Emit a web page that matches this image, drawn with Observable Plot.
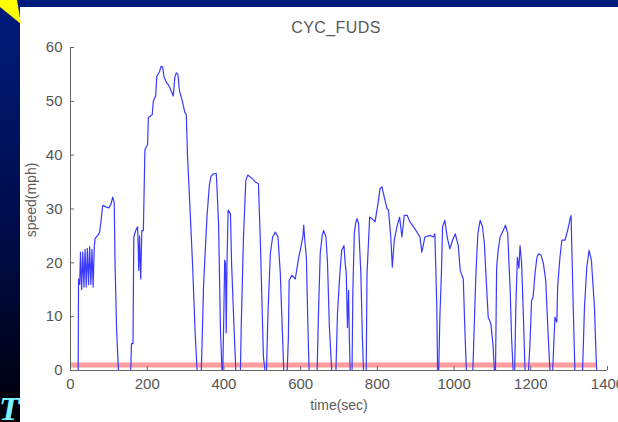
<!DOCTYPE html>
<html>
<head>
<meta charset="utf-8">
<script src="https://cdn.jsdelivr.net/npm/d3@7"></script>
<script src="https://cdn.jsdelivr.net/npm/@observablehq/plot@0.6"></script>
<style>
  html, body { margin: 0; padding: 0; }
  body { width: 618px; height: 422px; overflow: hidden; position: relative;
         background: linear-gradient(to bottom, #001c7c 0%, #000c48 55%, #000008 100%);
         font-family: "Liberation Sans", Arial, sans-serif; }
  #panel { position: absolute; left: 20px; top: 7px; width: 598px; height: 415px; background: #fff; }
  #title { position: absolute; left: 0; width: 672px; top: 19px; text-align: center; font-size: 16px;
           color: #5a5a5a; letter-spacing: 0.4px; }
  #ylab { position: absolute; left: 31px; top: 200px; transform: translate(-50%, -50%) rotate(-90deg);
          font-size: 14px; color: #5a5a5a; white-space: nowrap; }
  #xlab { position: absolute; left: 339px; top: 397px; transform: translateX(-50%);
          font-size: 14px; color: #5a5a5a; white-space: nowrap; }
  #chart { position: absolute; left: 20px; top: 37px; }
  #tri { position: absolute; left: 0; top: 0; }
  #bigT { position: absolute; left: -1px; top: 392px; font-family: "Liberation Serif", serif; font-style: italic;
          font-weight: bold; font-size: 34px; color: #7ff5ff; line-height: 1; }
</style>
</head>
<body>
<div id="bigT">T</div>
<div id="panel"></div>
<svg id="tri" width="30" height="30"><polygon points="0,0 17,0 21,24 0,7" fill="#ffff00"/></svg>
<div id="title">CYC_FUDS</div>
<div id="ylab">speed(mph)</div>
<div id="xlab">time(sec)</div>
<div id="chart"></div>
<script>
// Time (s) and speed (mph)
const timeSec = [
  0, 20, 21, 24, 26, 29, 32, 35, 38, 41, 44, 47, 50, 53, 56, 59, 62, 64, 72, 76, 80, 84, 92, 100, 106, 110, 114, 116, 120, 125,
  157, 159, 163, 165, 170, 175, 178, 180, 183, 186, 190, 194, 201, 203, 213, 216, 222, 225, 232, 236, 240, 244, 250, 256, 264, 268, 272, 276, 280, 284, 290, 298, 302, 305, 311, 318, 325, 330,
  341, 343, 347, 356, 362, 366, 372, 380, 382, 386, 391, 395,
  397, 399, 402, 404, 406, 408, 411, 417, 420, 427, 431,
  443, 445, 451, 457, 462, 468, 475, 482, 490, 495, 503, 507,
  511, 515, 521, 527, 534, 541, 547, 552, 556,
  565, 568, 570, 577, 586, 595, 601, 606, 608, 611, 615, 619, 622,
  643, 646, 651, 656, 660, 666, 670, 675, 681,
  692, 696, 701, 707, 713, 716, 719, 722, 725, 727, 729,
  734, 736, 740, 744, 747, 751, 757, 761, 764,
  771, 773, 780, 786, 794, 803, 807, 812, 818, 825, 829, 835, 839, 844, 851, 858, 864, 870, 878, 885, 898, 911, 916, 924, 937, 946, 950, 955, 957,
  960, 963, 967, 970, 976, 982, 989, 996, 1003, 1011, 1016, 1024, 1028, 1032,
  1049, 1053, 1057, 1062, 1068, 1074, 1079, 1083, 1089, 1096, 1102, 1105,
  1108, 1111, 1115, 1120, 1128, 1134, 1140, 1143, 1146, 1150, 1154,
  1158, 1161, 1165, 1169, 1172, 1176, 1180, 1185,
  1194, 1198, 1202, 1206, 1211, 1216, 1220, 1227, 1233, 1239, 1245, 1250,
  1257, 1263, 1268, 1270, 1276, 1281, 1289, 1296, 1302, 1305, 1308, 1312, 1315,
  1335, 1340, 1346, 1352, 1358, 1363, 1366, 1370, 1372
];
const speedMph = [
  0, 0, 17, 16, 22, 15, 22, 15.5, 22.5, 15.5, 22.7, 16, 23, 16, 22.5, 15.5, 23, 24.5, 25.2, 25.7, 28, 30.7, 30.4, 30.2, 31, 32.2, 31.2, 20.5, 8, 0,
  0, 5, 5, 24.8, 26, 26.7, 18.6, 25, 17, 26, 26, 41, 42, 47, 47.5, 50, 51, 54.6, 55.5, 56.5, 56.4, 54.5, 53.5, 53, 51.7, 51, 54.5, 55.3, 55, 52, 50.5, 48, 47.5, 40, 31, 20.1, 7, 0,
  0, 5, 16, 28.8, 34.4, 36, 36.5, 36.6, 33.8, 27.3, 7.4, 0,
  0, 7.4, 20.5, 20, 7, 20, 29.8, 29.1, 19.8, 6.8, 0,
  0, 8, 24.8, 35.3, 36.3, 36, 35.6, 35, 34.7, 23.9, 2.5, 0,
  0, 11, 21.7, 24.8, 25.7, 24.8, 18, 8, 0,
  0, 6, 16.7, 17.7, 17, 21, 23, 25, 27, 24, 21, 8, 0,
  0, 9.3, 21.7, 25, 26, 24.8, 20, 8, 0,
  0, 10.5, 16.7, 22.3, 23.2, 20, 18, 8, 14.9, 6, 0,
  0, 14.3, 25.7, 27.5, 28.2, 27.3, 18, 6, 0,
  0, 18, 28.5, 28.2, 27.6, 31.6, 33.8, 34.1, 32.2, 30.1, 29.8, 24.8, 19.2, 24.2, 26.7, 28.5, 24.8, 28.8, 28.8, 27.6, 26.3, 24.8, 22, 24.8, 25.1, 24.8, 25.4, 11.8, 0,
  0, 10, 18, 26.7, 27.9, 24.8, 22.6, 24.2, 25.4, 23.2, 18.6, 17, 8, 0,
  0, 9.3, 18, 25.4, 27.9, 26.7, 23.6, 18, 9.9, 8.7, 4.3, 0,
  0, 19.2, 22.3, 24.8, 26, 27, 25.4, 20, 15.5, 6, 0,
  0, 11.8, 21, 19, 23.2, 20, 11.8, 0,
  0, 5, 13, 13.6, 18, 21, 21.7, 21.4, 19.8, 16.7, 7, 0,
  0, 9.9, 9, 15.5, 21, 24.2, 24.2, 26, 28, 28.8, 19.8, 8, 0,
  0, 11.8, 19.2, 22.3, 20.5, 15, 11.8, 3, 0
];
const xTicks = [0, 200, 400, 600, 800, 1000, 1200, 1400];
const yTicks = [0, 10, 20, 30, 40, 50, 60];
const refLevel = [1];      // pink reference line level (mph)
const refSpan = [0, 1372]; // its extent (s)

const data = timeSec.map((t, i) => ({t, v: speedMph[i]}));

const chart = Plot.plot({
  width: 598,
  height: 385,
  marginLeft: 50,
  marginRight: 11,
  marginTop: 10,
  marginBottom: 52,
  style: {fontSize: "15px", fontFamily: "'Liberation Sans', Arial, sans-serif", color: "#555", background: "transparent", overflow: "hidden"},
  x: {domain: [0, 1400]},
  y: {domain: [0, 60]},
  marks: [
    Plot.ruleY(refLevel, {x1: refSpan[0], x2: refSpan[1], stroke: "#ff9c9c", strokeWidth: 5}),
    Plot.line(data, {x: "t", y: "v", stroke: "#3a3aff", strokeWidth: 1.2}),
    Plot.ruleX([0], {stroke: "#666"}),
    Plot.ruleY([0], {stroke: "#666"}),
    Plot.axisX(xTicks, {tickSize: -4, tickPadding: 12, label: null, stroke: "#666", tickFormat: d => String(d)}),
    Plot.axisY(yTicks, {tickSize: -4, tickPadding: 12, label: null, stroke: "#666", tickFormat: d => String(d)})
  ]
});
document.getElementById("chart").appendChild(chart);
</script>
</body>
</html>
